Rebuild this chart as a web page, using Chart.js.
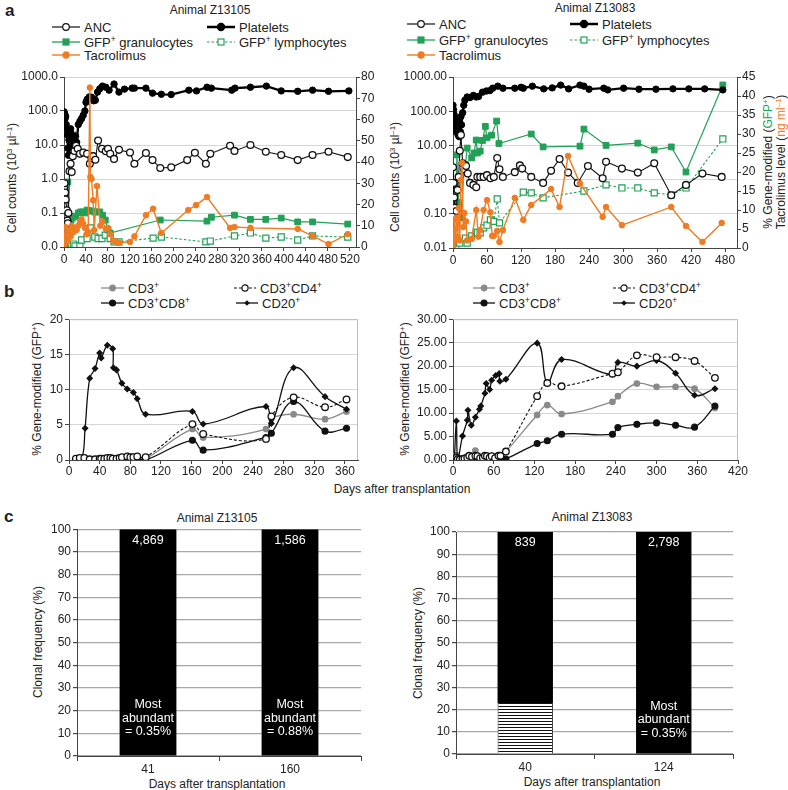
<!DOCTYPE html>
<html><head><meta charset="utf-8">
<script src="https://cdn.jsdelivr.net/npm/chart.js@4.4.1/dist/chart.umd.min.js"></script>
<style>
body{margin:0;background:#fff;width:788px;height:790px;position:relative;overflow:hidden;font-family:'Liberation Sans',Arial,Helvetica,sans-serif;color:#222}
canvas{position:absolute}
.c{position:absolute;white-space:nowrap;font-size:12px;transform:translate(-50%,-50%)}
.v{position:absolute;white-space:nowrap;font-size:12px;transform:translate(-50%,-50%) rotate(-90deg)}
.lg{position:absolute;font-size:13px;white-space:nowrap;display:flex;align-items:center;height:14px}
.pl{position:absolute;font-weight:bold;font-size:17px;line-height:17px}
sup{font-size:0.65em;vertical-align:0;position:relative;top:-0.5em;line-height:0}
</style></head>
<body>
<div class="pl" style="left:5px;top:2px">a</div>
<div class="pl" style="left:4px;top:283px">b</div>
<div class="pl" style="left:4px;top:508px">c</div>
<div class="c" style="left:210px;top:10px">Animal Z13105</div>
<div class="c" style="left:595px;top:8px">Animal Z13083</div>
<div class="c" style="left:217px;top:518px">Animal Z13105</div>
<div class="c" style="left:592px;top:517px">Animal Z13083</div>
<div class="v" style="left:12px;top:178px">Cell counts (10<sup>3</sup> µl<sup>–1</sup>)</div>
<div class="v" style="left:395px;top:177px">Cell counts (10<sup>3</sup> µl<sup>–1</sup>)</div>
<div class="v" style="left:768px;top:162px">% Gene-modified (<span style="color:#23a057">GFP<sup>+</sup></span>)</div>
<div class="v" style="left:781px;top:162px">Tacrolimus level (<span style="color:#f07b22">ng ml<sup>–1</sup></span>)</div>
<div class="v" style="left:37px;top:389px">% Gene-modified (GFP<sup>+</sup>)</div>
<div class="v" style="left:405px;top:389px">% Gene-modified (GFP<sup>+</sup>)</div>
<div class="c" style="left:402px;top:489px">Days after transplantation</div>
<div class="v" style="left:38px;top:642px">Clonal frequency (%)</div>
<div class="v" style="left:418px;top:643px">Clonal frequency (%)</div>
<div class="c" style="left:217px;top:784px">Days after transplantation</div>
<div class="c" style="left:592px;top:782px">Days after transplantation</div>
<div id="legends"></div>
<script>
// ---------------- DATA ----------------
// Panel a, animal Z13105 (left axis: cell counts, log; right axis: % GFP / tacrolimus)
const z105_plt_day = [0,1,2,3,4,5,6,7,8,9,10,11,12,13,14,15,17,19,21,23,26,29,32,35,38,40,42,46,50,54,57,61,65,70,76,82,91,100,110,124,128,149,161,177,195,227,241,260,268,305,311,339,368,395,425,452,481,518];
const z105_plt = [95,85,60,70,40,30,20,8,5,14,25,18,30,22,12,8,10,13,18,12,40,50,60,75,100,180,220,260,255,200,207,360,450,540,500,410,620,360,440,470,470,470,335,310,305,410,390,500,470,410,470,500,540,390,380,410,380,390];
const z105_anc_day = [0,1,2,3,5,6,7,8,10,12,14,16,19,22,25,29,35,42,47,50,53,57,62,69,76,80,84,91,100,120,128,149,161,175,195,224,238,258,266,302,310,339,367,395,425,452,481,516];
const z105_anc = [0.55,0.75,0.4,0.25,0.12,0.06,0.05,0.1,1.7,2.8,1.6,4.7,6.7,9.5,7.7,5.5,6.0,5.5,2.8,4.0,4.7,3.7,13.5,7.7,6.6,7.7,5.5,3.9,7.2,6.0,2.8,5.8,3.6,2.1,2.2,3.6,5.9,2.8,5.5,9.5,6.7,10,6.3,5.1,3.6,5.1,6.3,4.4];
const z105_gran_day = [3,7,9,13,17,21,26,30,34,38,42,46,50,55,60,65,70,75,80,84,175,260,268,310,339,367,395,425,452,516];
const z105_gran = [0.5,30.6,11,12.7,14,14.5,16,16.5,16.5,16,17.4,17,17,16.5,16.5,16.5,15,12.7,8,6.6,12.7,12.2,14,15,13,13,13.6,11.8,11.8,10.8];
const z105_lym_day = [0,8,17,20,29,32,42,48,56,62,69,75,84,91,100,162,177,258,266,310,339,367,395,425,452,516];
const z105_lym = [0,0.5,1.4,0.5,0.5,3.3,4,9,4.7,4,4,5.6,4,2.4,2.4,4.2,4.7,2.4,2.8,5.2,6.6,4.2,4.7,3.3,5.2,4.7];
const z105_tac_day = [0,2,4,6,8,10,12,14,17,20,23,26,29,32,35,38,41,44,47,48,50,53,55,60,66,70,76,80,84,89,95,100,120,128,149,162,177,226,240,260,302,310,339,425,452,481,516];
const z105_tac = [1,9.5,2,6,4,8,5,10,7,9,8,10,12,13,11,9,6,7,75,33,32,22,8,28.7,10,12,8.5,9,6,3,2.5,2,2.4,5,15,18,6.6,17.4,19.7,23.5,9,9.4,9,8.5,5.2,1.4,6.1];

// Panel a, animal Z13083
const z083_plt_day = [0,1,2,3,4,5,6,7,8,9,10,11,12,13,14,15,17,19,21,25,30,36,41,45,52,59,65,70,79,88,109,120,124,140,160,175,190,204,224,231,240,266,273,301,328,358,388,416,444,476];
const z083_plt = [150,110,80,50,35,40,25,30,60,20,35,18,45,25,70,40,90,150,210,260,250,290,260,270,360,390,400,470,540,470,470,500,470,540,450,480,580,450,580,540,440,470,420,470,440,440,450,450,450,420];
const z083_anc_day = [0,1,2,3,4,6,8,10,12,14,17,20,23,26,30,36,41,43,48,54,60,66,72,78,82,88,109,118,122,138,159,173,188,203,220,238,264,270,298,326,355,385,411,440,474];
const z083_anc = [2.3,0.8,0.3,0.15,0.09,0.12,0.5,1.2,7,20,3,2,2.5,1.5,0.8,0.7,0.6,1.2,1.2,1.2,1.35,1.1,1.2,4.3,2,1.2,1.65,2.6,2.1,1.2,0.8,1.8,4,1.6,0.8,2.5,1.1,3.3,2.1,1.6,3,0.35,0.7,1.5,1.2];
const z083_gran_day = [0,4,7,9,12,15,19,22,25,33,37,41,43,48,52,57,60,68,77,81,138,159,224,231,270,326,355,385,411,476];
const z083_gran = [0.5,10,24.5,12,18,8,20,22,26.3,23.7,25,28.4,25,25.5,28.3,32,29,29.7,33.4,27.5,30,26.6,26.8,31.3,27,27.6,25.8,26.6,20,42.9];
const z083_lym_day = [0,5,12,22,25,33,41,43,48,54,60,66,72,78,82,124,138,159,231,270,298,326,355,385,411,476];
const z083_lym = [0,0.5,1.3,2.6,1.3,3.2,4.2,4,4,5.3,6,7.4,7,12.9,6.6,14.7,14.5,13.2,15,16.6,15.8,15.8,14.5,14,15.8,28.7];
const z083_tac_day = [0,2,4,6,8,10,12,14,16,18,20,23,25,33,41,45,48,54,60,66,69,72,78,82,88,109,124,138,173,188,203,224,264,270,298,385,411,440,474];
const z083_tac = [0.5,7.4,2,8,3,10.5,2,17.9,22.4,5.5,9.2,7,2,2.4,10,3,4.7,10,12.6,9.4,3.2,3.2,4.5,1.6,4.7,13.2,7.4,11.3,15.5,10.8,24.2,17,8.2,10.8,6,10.8,5.8,1.6,6.6];

// Panel b, Z13105
const b105_cd20_day = [9,17,21,27,34,40,42,50,57,58,62,69,76,84,89,100,161,175,257,264,293,334,362];
const b105_cd20 = [0.1,0.3,4.5,11.6,13,15.2,14.5,16.3,15.8,13.1,12.8,10.9,10.1,9.6,8.7,6.5,6.9,5.1,7.6,5.2,13.1,9,7.2];
const b105_t_day = [9,14,20,27,34,40,42,46,50,54,57,62,66,69,76,80,84,89,100,161,175,257,264,293,334,362];
const b105_cd3 = [0.1,0.2,0.3,0.1,0.05,0.1,0.2,0.2,0.3,0.2,0.2,0.1,0.2,0.3,0.4,0.3,0.3,0.3,0.2,4.4,3.2,4.4,5.9,6.5,5.8,6.9];
const b105_cd4 = [0.2,0.3,0.3,0.1,0.1,0.2,0.2,0.2,0.3,0.3,0.2,0.2,0.3,0.4,0.5,0.4,0.4,0.5,0.4,5.1,3.7,3.0,6.2,8.9,7.5,8.6];
const b105_cd8 = [0,0.1,0.2,0,0,0,0.1,0.1,0.2,0.1,0,0,0.1,0.1,0.1,0,0,0.1,0,2.8,1.4,3.2,3.8,8.3,4.1,4.5];

// Panel b, Z13083
const b083_cd20_day = [2,5,7,14,21,22,27,33,39,41,47,49,54,57,63,68,69,78,124,139,160,235,243,271,300,328,356,386];
const b083_cd20 = [0,8.3,0,5.1,8.5,10.6,7.4,9.1,10.8,11.5,14.2,16.3,15,17,18,18.4,16.8,17.2,24.9,16.4,21.4,18.2,20.8,20,21.2,18.5,13.8,15.2];
const b083_t_day = [2,5,7,10,14,17,21,24,28,33,36,40,44,47,50,54,57,62,67,70,78,124,139,160,235,243,271,300,328,356,386];
const b083_cd3 = [0.5,1.0,0.3,0.2,0.3,0.5,0.8,0.5,0.6,2.0,0.8,0.5,0.6,0.8,0.7,0.5,0.6,0.4,0.8,0.9,1.8,9.6,11.7,9.8,12.4,13.6,16.3,15.6,15.6,15.2,11.1];
const b083_cd4 = [0.2,0.5,0.2,0.1,0.2,0.3,0.5,0.9,0.7,0.9,0.8,0.4,0.5,0.9,0.8,0.5,0.8,0.4,0.9,0.9,1.8,13.6,16.4,15.7,18.4,18.7,22.3,21.9,21.9,21.1,17.5];
const b083_cd8 = [0,0.1,0,0,0.1,0.1,0.2,0.1,0.2,0.3,0.2,0.1,0.2,0.3,0.2,0.1,0.2,0,0.1,0,0.2,3.5,4.1,5.5,5.5,6.9,7.6,7.9,7.4,7.0,11.5];

// Panel c
const c105_days = ['41','160'];
const c105_rest = [100,100];
const c105_counts = ['4,869','1,586'];
const c105_notes = [['Most','abundant','= 0.35%'],['Most','abundant','= 0.88%']];
const c083_days = ['40','124'];
const c083_top = [23,0];
const c083_rest = [77,100];
const c083_counts = ['839','2,798'];
const c083_notes = [null,['Most','abundant','= 0.35%']];

const LOG_TICKS = [0.01,0.1,1,10,100,1000];

// ---------------- STYLE ----------------
const GREEN='#23a057', ORANGE='#f07b22', GRAY='#8a8a8a', AX='#444', GRID='#d6d6d6';
Chart.defaults.font.family = "'Liberation Sans', Arial, Helvetica, sans-serif";
Chart.defaults.font.size = 12;
Chart.defaults.color = '#222';

const xy = (d,v) => d.map((x,i)=>({x, y:v[i]}));
function mk(x,y,w,h){ const c=document.createElement('canvas'); c.width=w; c.height=h; c.style.left=x+'px'; c.style.top=y+'px'; document.body.appendChild(c); return c; }
function linX(max, step, h, pad){ return {type:'linear', min:0, max, ticks:{stepSize:step, includeBounds:false, autoSkip:false, maxRotation:0, padding:pad, color:'#222'}, grid:{drawOnChartArea:false, tickLength:4, tickColor:AX}, border:{color:AX}, afterFit: s=>{s.height=h;}}; }
function logY(w, fmt){ return {type:'logarithmic', position:'left', min:0.01, max:1000,
  afterBuildTicks: s=>{ s.ticks = LOG_TICKS.map(v=>({value:v})); },
  ticks:{callback: v=>fmt(v), padding:2, color:'#222', autoSkip:false},
  grid:{color:GRID, tickLength:4, tickColor:AX}, border:{color:AX}, afterFit: s=>{s.width=w;}}; }
function linR(max, step, w){ return {type:'linear', position:'right', min:0, max, ticks:{stepSize:step, padding:1, color:'#222'}, grid:{drawOnChartArea:false, tickLength:4, tickColor:AX}, border:{color:AX}, afterFit: s=>{s.width=w;}}; }

const ST = {
  anc:{borderColor:'#111', borderWidth:1.1, pointRadius:3.4, pointBackgroundColor:'#fff', pointBorderColor:'#111', pointBorderWidth:1.3},
  plt:{borderColor:'#000', borderWidth:2.3, pointRadius:3.2, pointBackgroundColor:'#000', pointBorderColor:'#000', pointBorderWidth:1},
  gran:{borderColor:GREEN, borderWidth:1.2, pointStyle:'rect', pointRadius:4.1, pointBackgroundColor:GREEN, pointBorderColor:GREEN, pointBorderWidth:1},
  lym:{borderColor:GREEN, borderWidth:1.1, borderDash:[2.5,2], pointStyle:'rect', pointRadius:4.3, pointBackgroundColor:'#fff', pointBorderColor:GREEN, pointBorderWidth:1.2},
  tac:{borderColor:ORANGE, borderWidth:1.4, pointRadius:2.8, pointBackgroundColor:ORANGE, pointBorderColor:ORANGE, pointBorderWidth:1},
  cd3:{borderColor:GRAY, borderWidth:1.3, pointRadius:2.7, pointBackgroundColor:GRAY, pointBorderColor:GRAY, tension:0.4},
  cd4:{borderColor:'#111', borderWidth:1.1, borderDash:[3,2], pointRadius:3.3, pointBackgroundColor:'#fff', pointBorderColor:'#111', pointBorderWidth:1.3, tension:0.4},
  cd8:{borderColor:'#111', borderWidth:1.3, pointRadius:2.9, pointBackgroundColor:'#111', pointBorderColor:'#111', tension:0.4},
  cd20:{borderColor:'#111', borderWidth:1.3, pointStyle:'rectRot', pointRadius:2.6, pointBackgroundColor:'#111', pointBorderColor:'#111', tension:0.4}
};
const ds = (label, pts, st, axis) => Object.assign({label, data:pts, yAxisID:axis}, ST[st]);
const base = {responsive:false, animation:false, events:[], plugins:{legend:{display:false}, tooltip:{enabled:false}}};

// ---------------- PANEL a ----------------
function aChart(cv, sets, xMax, xStep, fmt, rMax, rStep, lw, rw, xh){
  return new Chart(cv, {type:'line', data:{datasets:sets}, options:Object.assign({}, base, {
    layout:{padding:{top:17,left:0,right:0,bottom:0}},
    scales:{x:linX(xMax,xStep,xh,1), y:logY(lw,fmt), yR:linR(rMax,rStep,rw)}
  })});
}
aChart(mk(0,60,392,215), [
  ds('Tacrolimus', xy(z105_tac_day,z105_tac), 'tac', 'yR'),
  ds('ANC', xy(z105_anc_day,z105_anc), 'anc', 'y'),
  ds('Platelets', xy(z105_plt_day,z105_plt), 'plt', 'y'),
  ds('GFP+ granulocytes', xy(z105_gran_day,z105_gran), 'gran', 'yR'),
  ds('GFP+ lymphocytes', xy(z105_lym_day,z105_lym), 'lym', 'yR')
], 531, 40, v=> v<0.05 ? '0.0' : v.toFixed(1), 80, 10, 64, 36, 28);

aChart(mk(392,60,396,215), [
  ds('Tacrolimus', xy(z083_tac_day,z083_tac), 'tac', 'yR'),
  ds('ANC', xy(z083_anc_day,z083_anc), 'anc', 'y'),
  ds('Platelets', xy(z083_plt_day,z083_plt), 'plt', 'y'),
  ds('GFP+ granulocytes', xy(z083_gran_day,z083_gran), 'gran', 'yR'),
  ds('GFP+ lymphocytes', xy(z083_lym_day,z083_lym), 'lym', 'yR')
], 501, 60, v=> v.toFixed(2), 45, 5, 61, 51, 27);

// ---------------- PANEL b ----------------
const frame = {id:'frame', beforeDatasetsDraw(ch){ const a=ch.chartArea, c=ch.ctx; c.save(); c.strokeStyle='#bdbdbd'; c.lineWidth=1; c.beginPath(); c.moveTo(a.left,a.top+0.5); c.lineTo(a.right-0.5,a.top+0.5); c.lineTo(a.right-0.5,a.bottom); c.stroke(); c.restore(); }};
function bChart(cv, sets, xMax, xStep, yMax, yStep, fmt, lw, rp){
  return new Chart(cv, {type:'line', data:{datasets:sets}, plugins:[frame], options:Object.assign({}, base, {
    layout:{padding:{top:8,left:0,right:rp,bottom:0}},
    scales:{x:linX(xMax,xStep,22,0),
      y:{type:'linear', min:0, max:yMax, ticks:{stepSize:yStep, padding:2, color:'#222', callback:v=>fmt(v)}, grid:{color:GRID, tickLength:4, tickColor:AX}, border:{color:AX}, afterFit:s=>{s.width=lw;}}}
  })});
}
bChart(mk(0,310,392,172), [
  ds('CD3+CD4+', xy(b105_t_day,b105_cd4), 'cd4', 'y'),
  ds('CD20+', xy(b105_cd20_day,b105_cd20), 'cd20', 'y'),
  ds('CD3+CD8+', xy(b105_t_day,b105_cd8), 'cd8', 'y'),
  ds('CD3+', xy(b105_t_day,b105_cd3), 'cd3', 'y')
], 377, 40, 20, 5, v=>String(v), 69, 34);
bChart(mk(392,310,396,172), [
  ds('CD3+CD4+', xy(b083_t_day,b083_cd4), 'cd4', 'y'),
  ds('CD20+', xy(b083_cd20_day,b083_cd20), 'cd20', 'y'),
  ds('CD3+CD8+', xy(b083_t_day,b083_cd8), 'cd8', 'y'),
  ds('CD3+', xy(b083_t_day,b083_cd3), 'cd3', 'y')
], 420, 60, 30, 5, v=>v.toFixed(2), 61, 50);

// ---------------- PANEL c ----------------
function hatch(){ const c=document.createElement('canvas'); c.width=4; c.height=3; const g=c.getContext('2d'); g.fillStyle='#fff'; g.fillRect(0,0,4,3); g.fillStyle='#111'; g.fillRect(0,0,4,1); return g.createPattern(c,'repeat'); }
const barText = {id:'barText', afterDatasetsDraw(ch, args, o){
  const ctx=ch.ctx, meta=ch.getDatasetMeta(ch.data.datasets.length-1), y=ch.scales.y;
  ctx.save(); ctx.fillStyle='#fff'; ctx.font="12.5px 'Liberation Sans', Arial, sans-serif"; ctx.textAlign='center'; ctx.textBaseline='middle';
  o.counts.forEach((t,i)=>ctx.fillText(t, meta.data[i].x, y.getPixelForValue(o.countAt)));
  o.notes.forEach((n,i)=>{ if(!n) return; n.forEach((ln,j)=>ctx.fillText(ln, meta.data[i].x, y.getPixelForValue(o.noteAt)+j*13.5)); });
  ctx.restore();
}};
function cChart(cv, labels, sets, counts, notes, noteAt, lw, pt, rp, xh){
  return new Chart(cv, {type:'bar', data:{labels, datasets:sets}, plugins:[barText], options:Object.assign({}, base, {
    layout:{padding:{top:pt,left:0,right:rp,bottom:0}},
    plugins:{legend:{display:false}, tooltip:{enabled:false}, barText:{counts, notes, countAt:95.2, noteAt}},
    scales:{
      x:{stacked:true, ticks:{padding:1, color:'#222'}, grid:{drawOnChartArea:false, offset:true, tickLength:5, tickColor:AX}, border:{color:AX}, afterFit:s=>{s.height=xh;}},
      y:{stacked:true, min:0, max:100, ticks:{stepSize:10, padding:2, color:'#222'}, grid:{color:'#a8a8a8', lineWidth:1.2, tickLength:4, tickColor:AX}, border:{color:AX}, afterFit:s=>{s.width=lw;}}
    }
  })});
}
const barOpt = {barPercentage:0.4, categoryPercentage:1.0};
cChart(mk(0,520,392,268), c105_days, [
  Object.assign({label:'Other clones', data:c105_rest, backgroundColor:'#000', borderWidth:0}, barOpt)
], c105_counts, c105_notes, 22.5, 77, 9, 31, 32);
cChart(mk(392,520,396,268), c083_days, [
  Object.assign({label:'Most abundant clone', data:c083_top, backgroundColor:hatch(), borderColor:'#333', borderWidth:{left:1,right:1,top:0,bottom:0}}, barOpt),
  Object.assign({label:'Other clones', data:c083_rest, backgroundColor:'#000', borderWidth:0}, barOpt)
], c083_counts, c083_notes, 21.5, 64, 12, 55, 34);

// ---------------- LEGENDS ----------------
const SYM = {
  anc:{c:'#111', lw:1.2, m:'circle', fill:'#fff', r:3.3},
  plt:{c:'#000', lw:2.5, m:'circle', fill:'#000', r:3.6},
  gran:{c:GREEN, lw:1.3, m:'rect', fill:GREEN, r:3},
  lym:{c:GREEN, lw:1.2, dash:'2.5,2', m:'rect', fill:'#fff', r:3},
  tac:{c:ORANGE, lw:1.4, m:'circle', fill:ORANGE, r:3.1},
  cd3:{c:GRAY, lw:1.3, m:'circle', fill:GRAY, r:2.8},
  cd4:{c:'#111', lw:1.1, dash:'3,2', m:'circle', fill:'#fff', r:3.1},
  cd8:{c:'#111', lw:1.3, m:'circle', fill:'#111', r:3},
  cd20:{c:'#111', lw:1.3, m:'diamond', fill:'#111', r:2.8}
};
function svgSym(w, s){
  const cy=6, cx=w/2;
  let out = `<line x1="0" y1="${cy}" x2="${w}" y2="${cy}" stroke="${s.c}" stroke-width="${s.lw}"${s.dash?` stroke-dasharray="${s.dash}"`:''}/>`;
  if (s.m==='circle') out += `<circle cx="${cx}" cy="${cy}" r="${s.r}" fill="${s.fill}" stroke="${s.c}" stroke-width="1.2"/>`;
  else if (s.m==='rect') out += `<rect x="${cx-s.r}" y="${cy-s.r}" width="${2*s.r}" height="${2*s.r}" fill="${s.fill}" stroke="${s.c}" stroke-width="1.2"/>`;
  else out += `<polygon points="${cx},${cy-s.r} ${cx+s.r},${cy} ${cx},${cy+s.r} ${cx-s.r},${cy}" fill="${s.fill}"/>`;
  return `<svg width="${w}" height="12" style="display:block;overflow:visible">${out}</svg>`;
}
const LEG = [
  [52,27,28,'anc','ANC'],[207,27,28,'plt','Platelets'],
  [52,42,28,'gran','GFP<sup>+</sup> granulocytes'],[207,42,28,'lym','GFP<sup>+</sup> lymphocytes'],
  [52,55,28,'tac','Tacrolimus'],
  [407,24,28,'anc','ANC'],[570,24,28,'plt','Platelets'],
  [407,40,28,'gran','GFP<sup>+</sup> granulocytes'],[570,40,28,'lym','GFP<sup>+</sup> lymphocytes'],
  [407,55,28,'tac','Tacrolimus'],
  [101,288,23,'cd3','CD3<sup>+</sup>'],[234,288,22,'cd4','CD3<sup>+</sup>CD4<sup>+</sup>'],
  [101,303,23,'cd8','CD3<sup>+</sup>CD8<sup>+</sup>'],[236,303,22,'cd20','CD20<sup>+</sup>'],
  [473,288,22,'cd3','CD3<sup>+</sup>'],[613,288,22,'cd4','CD3<sup>+</sup>CD4<sup>+</sup>'],
  [473,303,22,'cd8','CD3<sup>+</sup>CD8<sup>+</sup>'],[613,303,22,'cd20','CD20<sup>+</sup>']
];
document.getElementById('legends').innerHTML = LEG.map(([x,y,w,k,t]) =>
  `<div class="lg" style="left:${x}px;top:${y-7}px">${svgSym(w,SYM[k])}<span style="margin-left:4px">${t}</span></div>`).join('');
</script>
</body></html>
